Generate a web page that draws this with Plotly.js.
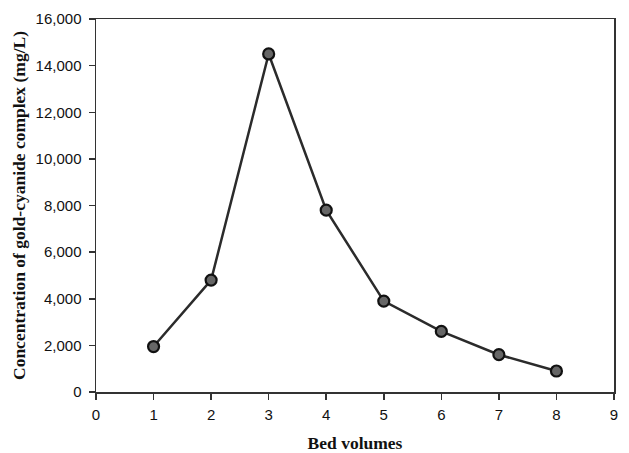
<!DOCTYPE html>
<html><head><meta charset="utf-8">
<script src="https://cdn.plot.ly/plotly-3.0.1.min.js"></script>
<style>body{margin:0;padding:0;background:#fff}#chart{width:629px;height:453px}</style>
</head><body><div id="chart"></div>
<script>
var bedVolumes = [1, 2, 3, 4, 5, 6, 7, 8];
var concentration = [1950, 4800, 14500, 7800, 3900, 2600, 1600, 900];
var xTickVals = [0, 1, 2, 3, 4, 5, 6, 7, 8, 9];
var yTickVals = [0, 2000, 4000, 6000, 8000, 10000, 12000, 14000, 16000];

var trace = {
  x: bedVolumes, y: concentration, type: 'scatter', mode: 'lines+markers',
  line: {color: '#2b2b2b', width: 2.5},
  marker: {size: 11, color: '#666666', line: {color: '#111111', width: 2.2}}
};
var layout = {
  width: 629, height: 453,
  margin: {l: 96, r: 15, t: 19, b: 61},
  paper_bgcolor: '#fff', plot_bgcolor: '#fff',
  showlegend: false,
  font: {family: 'Liberation Sans, Arial, sans-serif', size: 15, color: '#111'},
  xaxis: {
    range: [0, 9], tickvals: xTickVals, ticks: 'outside', ticklen: 6, tickcolor: '#333', tickwidth: 1.5,
    tickfont: {size: 15}, ticklabelstandoff: 2,
    showgrid: false, zeroline: false, showline: true, linecolor: '#333', linewidth: 1.5, mirror: true,
    title: {text: 'Bed volumes', font: {family: 'Liberation Serif, Times New Roman, serif', size: 17.5, color: '#111', weight: 'bold'}, standoff: 18}
  },
  yaxis: {
    range: [0, 16000], tickvals: yTickVals, tickformat: ',d', ticks: 'outside', ticklen: 6, tickcolor: '#333', tickwidth: 1.5,
    tickfont: {size: 15}, ticklabelstandoff: 4,
    showgrid: false, zeroline: false, showline: true, linecolor: '#333', linewidth: 1.5, mirror: true,
    title: {text: 'Concentration of gold-cyanide complex (mg/L)', font: {family: 'Liberation Serif, Times New Roman, serif', size: 17.5, color: '#111', weight: 'bold'}, standoff: 5}
  }
};
Plotly.newPlot('chart', [trace], layout, {displayModeBar: false, staticPlot: true});
</script></body></html>
